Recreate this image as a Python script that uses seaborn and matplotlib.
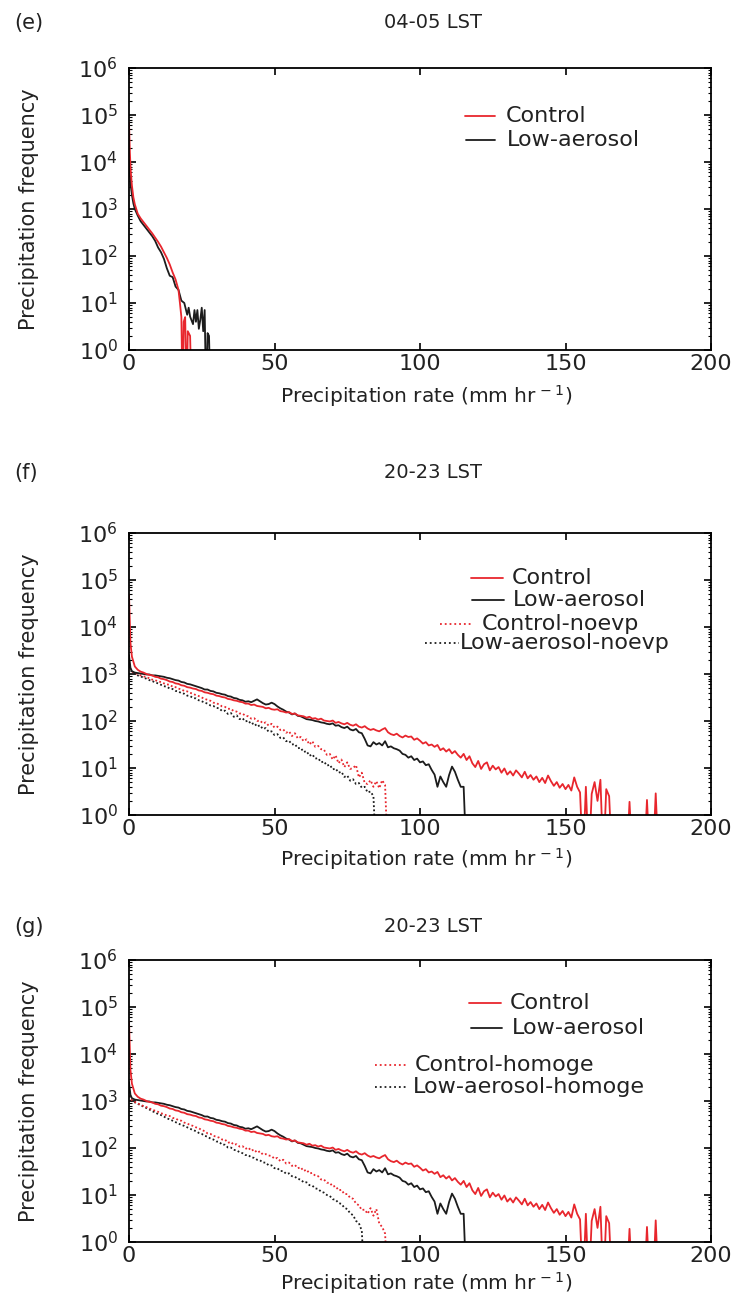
import numpy as np
import pandas as pd
import matplotlib
matplotlib.use("Agg")
import matplotlib.pyplot as plt
import seaborn as sns
from matplotlib.lines import Line2D
from matplotlib.ticker import FixedLocator, LogFormatterMathtext, NullFormatter, NullLocator

# values are log10(precipitation frequency);
# -1 means "below 10^0" (bin empty / clipped at the bottom of the axis)

# (e) 04-05 LST
e_ctrl_x = [0, 0.3, 0.6, 1, 1.5, 2, 3, 4, 5, 6, 7, 8, 9, 10, 11, 12, 13, 14, 15,
            16, 17, 17.5, 18, 18.4, 18.8, 19.3, 19.8, 20.2, 21, 21.5]
e_ctrl_log = [4.84, 4.2, 3.8, 3.5, 3.25, 3.1, 2.90, 2.80, 2.72, 2.64, 2.56, 2.48, 2.39,
              2.30, 2.20, 2.08, 1.96, 1.82, 1.65, 1.50, 1.28, 1.0, 0.7, -1, 0.6, 0.7,
              -1, 0.4, 0.3, -1]
e_lowa_x = [0, 0.3, 0.6, 1, 1.5, 2, 3, 4, 5, 6, 7, 8, 9, 10, 11, 12, 13, 14, 15, 16,
            17, 18, 19, 20, 20.5, 21, 22, 22.5, 23, 23.5, 24, 24.5, 25, 25.5, 26,
            26.5, 27, 27.5, 28]
e_lowa_log = [4.04, 3.75, 3.5, 3.3, 3.12, 3.0, 2.86, 2.74, 2.66, 2.58, 2.50, 2.42,
              2.32, 2.18, 2.08, 1.94, 1.74, 1.58, 1.55, 1.35, 1.28, 1.05, 1.0, 0.75,
              0.9, 0.71, 0.55, 0.85, 0.6, 0.85, 0.45, 0.64, 0.9, 0.4, 0.85, -1, 0.36,
              0.3, -1]

# (f)/(g) 20-23 LST, bins at 0, 0.5, 1, 2, 3, ... mm/hr
ctrl_log = [4.69, 3.66,
            3.37, 3.16, 3.09, 3.05, 3.03, 3.00, 2.98, 2.97, 2.94, 2.93,
            2.90, 2.89, 2.87, 2.84, 2.83, 2.80, 2.79, 2.76, 2.75, 2.72,
            2.71, 2.69, 2.68, 2.65, 2.64, 2.61, 2.60, 2.58, 2.57, 2.54,
            2.53, 2.51, 2.50, 2.47, 2.46, 2.44, 2.43, 2.41, 2.40, 2.37,
            2.37, 2.34, 2.35, 2.32, 2.31, 2.30, 2.27, 2.28, 2.25, 2.24,
            2.25, 2.21, 2.20, 2.18, 2.19, 2.15, 2.16, 2.12, 2.11, 2.10,
            2.07, 2.09, 2.05, 2.06, 2.03, 2.05, 2.01, 2.00, 1.99, 2.01,
            1.96, 1.98, 1.95, 1.93, 1.96, 1.92, 1.90, 1.93, 1.88, 1.86,
            1.89, 1.84, 1.81, 1.83, 1.80, 1.78, 1.82, 1.85, 1.76, 1.72,
            1.70, 1.73, 1.68, 1.65, 1.69, 1.66, 1.67, 1.60, 1.63, 1.58,
            1.52, 1.55, 1.48, 1.50, 1.45, 1.49, 1.38, 1.42, 1.35, 1.40,
            1.31, 1.36, 1.28, 1.22, 1.30, 1.17, 1.25, 1.10, 1.02, 1.15,
            0.98, 1.08, 1.12, 0.95, 1.05, 0.97, 1.02, 0.90, 0.99, 0.86,
            0.93, 0.84, 0.95, 0.88, 0.80, 0.92, 0.78, 0.85, 0.75, 0.82,
            0.70, 0.79, 0.68, 0.84, 0.72, 0.62, 0.70, 0.58, 0.66, 0.55,
            0.64, 0.52, 0.80, 0.60, 0.48, -1, 0.60, -1, 0.45, 0.70,
            0.30, 0.75, -1, 0.55, 0.40, -1, -1, -1, -1, -1,
            -1, 0.28, -1, -1, -1, -1, -1, 0.32, -1, -1, 0.46, -1]
lowa_log = [3.40, 3.13,
            3.06, 3.03, 3.02, 3.01, 3.00, 2.99, 2.99, 2.97, 2.97, 2.96,
            2.95, 2.94, 2.92, 2.91, 2.89, 2.87, 2.86, 2.83, 2.82, 2.79,
            2.78, 2.76, 2.74, 2.72, 2.70, 2.67, 2.67, 2.64, 2.63, 2.60,
            2.59, 2.57, 2.56, 2.53, 2.52, 2.49, 2.48, 2.45, 2.44, 2.41,
            2.42, 2.40, 2.43, 2.46, 2.42, 2.38, 2.35, 2.36, 2.39, 2.36,
            2.31, 2.27, 2.24, 2.20, 2.18, 2.14, 2.16, 2.11, 2.10, 2.07,
            2.04, 2.03, 2.02, 2.00, 1.99, 1.97, 1.96, 1.94, 1.93, 1.95,
            1.90, 1.91, 1.87, 1.85, 1.88, 1.82, 1.80, 1.83, 1.76, 1.74,
            1.62, 1.48, 1.46, 1.55, 1.50, 1.53, 1.48, 1.57, 1.44, 1.46,
            1.42, 1.40, 1.37, 1.30, 1.28, 1.22, 1.25, 1.17, 1.20, 1.12,
            1.14, 1.06, 1.08, 0.96, 0.86, 0.60, 0.82, 0.70, 0.60, 0.85,
            1.03, 0.92, 0.75, 0.60, 0.60, -1]
noevp_ctrl_log = [3.30, 3.10,
                  3.05, 3.02, 3.00, 2.97, 2.95, 2.93, 2.91, 2.88, 2.87, 2.84,
                  2.83, 2.80, 2.78, 2.77, 2.73, 2.72, 2.69, 2.67, 2.64, 2.63,
                  2.60, 2.58, 2.55, 2.53, 2.50, 2.47, 2.45, 2.43, 2.39, 2.38,
                  2.35, 2.31, 2.30, 2.26, 2.26, 2.21, 2.20, 2.16, 2.16, 2.11,
                  2.10, 2.05, 2.06, 2.00, 2.01, 1.95, 1.97, 1.90, 1.94, 1.86,
                  1.88, 1.81, 1.82, 1.75, 1.78, 1.68, 1.74, 1.63, 1.66, 1.57,
                  1.61, 1.50, 1.57, 1.45, 1.47, 1.40, 1.39, 1.28, 1.30, 1.18,
                  1.27, 1.10, 1.18, 1.02, 1.12, 0.98, 1.00, 1.06, 0.80, 0.90,
                  0.68, 0.66, 0.74, 0.60, 0.72, 0.57, 0.74, 0.64, -1]
noevp_lowa_log = [3.25, 3.10,
                  3.03, 3.00, 2.97, 2.95, 2.92, 2.90, 2.87, 2.85, 2.82, 2.80,
                  2.77, 2.74, 2.73, 2.69, 2.68, 2.64, 2.63, 2.59, 2.58, 2.54,
                  2.53, 2.49, 2.48, 2.44, 2.42, 2.39, 2.37, 2.33, 2.32, 2.28,
                  2.27, 2.21, 2.22, 2.15, 2.17, 2.09, 2.12, 2.04, 2.06, 1.99,
                  2.01, 1.93, 1.96, 1.88, 1.91, 1.83, 1.85, 1.77, 1.78, 1.70,
                  1.72, 1.64, 1.65, 1.57, 1.58, 1.50, 1.51, 1.42, 1.43, 1.34,
                  1.36, 1.26, 1.29, 1.20, 1.21, 1.12, 1.14, 1.05, 1.07, 0.97,
                  0.99, 0.90, 0.92, 0.81, 0.84, 0.73, 0.76, 0.66, 0.68, 0.58,
                  0.60, 0.48, 0.50, 0.40, -1]
homoge_ctrl_log = [3.30, 3.08,
                   3.02, 2.98, 2.95, 2.92, 2.89, 2.87, 2.84, 2.82, 2.79, 2.77,
                   2.74, 2.72, 2.69, 2.68, 2.64, 2.63, 2.59, 2.58, 2.54, 2.52,
                   2.49, 2.47, 2.44, 2.42, 2.38, 2.36, 2.31, 2.30, 2.26, 2.24,
                   2.22, 2.18, 2.18, 2.11, 2.13, 2.07, 2.08, 2.03, 2.04, 1.98,
                   2.01, 1.94, 1.97, 1.90, 1.93, 1.86, 1.87, 1.84, 1.83, 1.77,
                   1.79, 1.72, 1.75, 1.67, 1.69, 1.62, 1.64, 1.57, 1.59, 1.51,
                   1.54, 1.46, 1.47, 1.41, 1.40, 1.33, 1.33, 1.26, 1.26, 1.18,
                   1.19, 1.10, 1.11, 1.02, 1.02, 0.94, 0.92, 0.82, 0.78, 0.68,
                   0.69, 0.60, 0.72, 0.56, 0.70, 0.39, 0.32, 0.18, -1]
homoge_lowa_log = [3.20, 3.05,
                   3.00, 2.97, 2.94, 2.91, 2.88, 2.85, 2.82, 2.78, 2.76, 2.72,
                   2.70, 2.67, 2.63, 2.61, 2.58, 2.55, 2.52, 2.49, 2.47, 2.44,
                   2.41, 2.38, 2.36, 2.32, 2.30, 2.26, 2.24, 2.20, 2.18, 2.14,
                   2.13, 2.07, 2.07, 2.01, 2.01, 1.96, 1.95, 1.91, 1.89, 1.85,
                   1.85, 1.80, 1.79, 1.75, 1.74, 1.69, 1.69, 1.63, 1.63, 1.57,
                   1.57, 1.51, 1.51, 1.45, 1.46, 1.40, 1.39, 1.34, 1.33, 1.27,
                   1.27, 1.21, 1.20, 1.14, 1.13, 1.07, 1.05, 1.00, 0.98, 0.91,
                   0.90, 0.83, 0.81, 0.73, 0.70, 0.61, 0.57, 0.45, 0.40, 0.24,
                   -1]

RED = "#e8262d"
BLACK = "#1c1c1c"


def bins(vals):
    return [0, 0.5] + list(range(1, len(vals) - 1))


def frame(series):
    parts = []
    for name, x, logv in series:
        parts.append(pd.DataFrame({"x": x, "freq": 10.0 ** np.asarray(logv), "run": name}))
    return pd.concat(parts, ignore_index=True)


panels = [
    ("(e)", "04-05 LST", frame([
        ("Low-aerosol", e_lowa_x, e_lowa_log),
        ("Control", e_ctrl_x, e_ctrl_log)])),
    ("(f)", "20-23 LST", frame([
        ("Low-aerosol-noevp", bins(noevp_lowa_log), noevp_lowa_log),
        ("Control-noevp", bins(noevp_ctrl_log), noevp_ctrl_log),
        ("Low-aerosol", bins(lowa_log), lowa_log),
        ("Control", bins(ctrl_log), ctrl_log)])),
    ("(g)", "20-23 LST", frame([
        ("Low-aerosol-homoge", bins(homoge_lowa_log), homoge_lowa_log),
        ("Control-homoge", bins(homoge_ctrl_log), homoge_ctrl_log),
        ("Low-aerosol", bins(lowa_log), lowa_log),
        ("Control", bins(ctrl_log), ctrl_log)])),
]

colors = {"Control": RED, "Low-aerosol": BLACK,
          "Control-noevp": RED, "Low-aerosol-noevp": BLACK,
          "Control-homoge": RED, "Low-aerosol-homoge": BLACK}
dashes = {k: ("" if k in ("Control", "Low-aerosol") else (1, 1.3)) for k in colors}

y_major = [1e0, 1e1, 1e2, 1e3, 1e4, 1e5, 1e6]
y_minor = [m * d for d in y_major[:-1] for m in range(2, 10)]

# layout in pixels of the 749x1299 picture
W, H = 749, 1299
axes_px = [(68, 350), (533, 815), (960, 1242)]       # top, bottom of each axes
title_y = [23, 473, 927]
xlabel_y = [396, 859, 1283]
legends = [
    [("Control", 465, 495, 506, 116), ("Low-aerosol", 466, 495, 507, 140)],
    [("Control", 471, 503, 512, 578), ("Low-aerosol", 472, 504, 513, 600),
     ("Control-noevp", 440, 471, 482, 624), ("Low-aerosol-noevp", 425, 459, 460, 643)],
    [("Control", 469, 501, 510, 1003), ("Low-aerosol", 471, 502, 512, 1028),
     ("Control-homoge", 375, 407, 415, 1065), ("Low-aerosol-homoge", 375, 407, 413, 1087)],
]

sns.set_theme(style="white")
plt.rcParams["font.family"] = ["DejaVu Sans"]
plt.rcParams["mathtext.fontset"] = "dejavusans"

fig = plt.figure(figsize=(W / 100, H / 100), dpi=100)
fig.patch.set_facecolor("white")

for i, (tag, title, df) in enumerate(panels):
    top, bottom = axes_px[i]
    ax = fig.add_axes([129 / W, 1 - bottom / H, (711 - 129) / W, (bottom - top) / H])
    sns.lineplot(data=df, x="x", y="freq", hue="run", style="run",
                 palette=colors, dashes=dashes, estimator=None, sort=False,
                 legend=False, lw=1.3, ax=ax)
    ax.set_yscale("log")
    ax.set_ylim(1, 1e6)
    ax.set_xlim(0, 200)
    ax.set_xticks([0, 50, 100, 150, 200])
    ax.xaxis.set_minor_locator(NullLocator())
    ax.yaxis.set_major_locator(FixedLocator(y_major))
    ax.yaxis.set_major_formatter(LogFormatterMathtext())
    ax.yaxis.set_minor_locator(FixedLocator(y_minor))
    ax.yaxis.set_minor_formatter(NullFormatter())
    ax.tick_params(which="both", direction="in", top=True, right=True,
                   bottom=True, left=True, colors="black")
    ax.tick_params(which="major", length=5, width=1.2, labelsize=16)
    ax.tick_params(axis="x", which="major", pad=3)
    ax.tick_params(axis="y", which="major", pad=8)
    ax.tick_params(which="minor", length=2.5, width=0.8)
    for lab in ax.get_xticklabels() + ax.get_yticklabels():
        lab.set_color("#222222")
    for sp in ax.spines.values():
        sp.set_visible(True)
        sp.set_color("black")
        sp.set_linewidth(1.3)
    ax.set_xlabel("")
    ax.set_ylabel("")

    fig.text(14 / W, 1 - title_y[i] / H, tag, fontsize=15, ha="left", va="center", color="#222222")
    fig.text(433 / W, 1 - title_y[i] / H, title, fontsize=14, ha="center", va="center", color="#222222")
    fig.text(426 / W, 1 - xlabel_y[i] / H, "Precipitation rate (mm hr$^{\\,-1}$)",
             fontsize=14.5, ha="center", va="center", color="#222222")
    fig.text(29 / W, 1 - (top + bottom) / 2 / H, "Precipitation frequency",
             rotation=90, fontsize=15, ha="center", va="center", color="#222222",
             family=["Liberation Sans Narrow", "DejaVu Sans"])

    for name, x0, x1, tx, ly in legends[i]:
        dotted = name not in ("Control", "Low-aerosol")
        fig.add_artist(Line2D([x0 / W, x1 / W], [1 - ly / H, 1 - ly / H],
                              transform=fig.transFigure, color=colors[name], lw=1.3,
                              linestyle=":" if dotted else "-"))
        fig.text(tx / W, 1 - ly / H, name, fontsize=16, ha="left", va="center", color="#222222")

fig.savefig("out.png", dpi=100)
